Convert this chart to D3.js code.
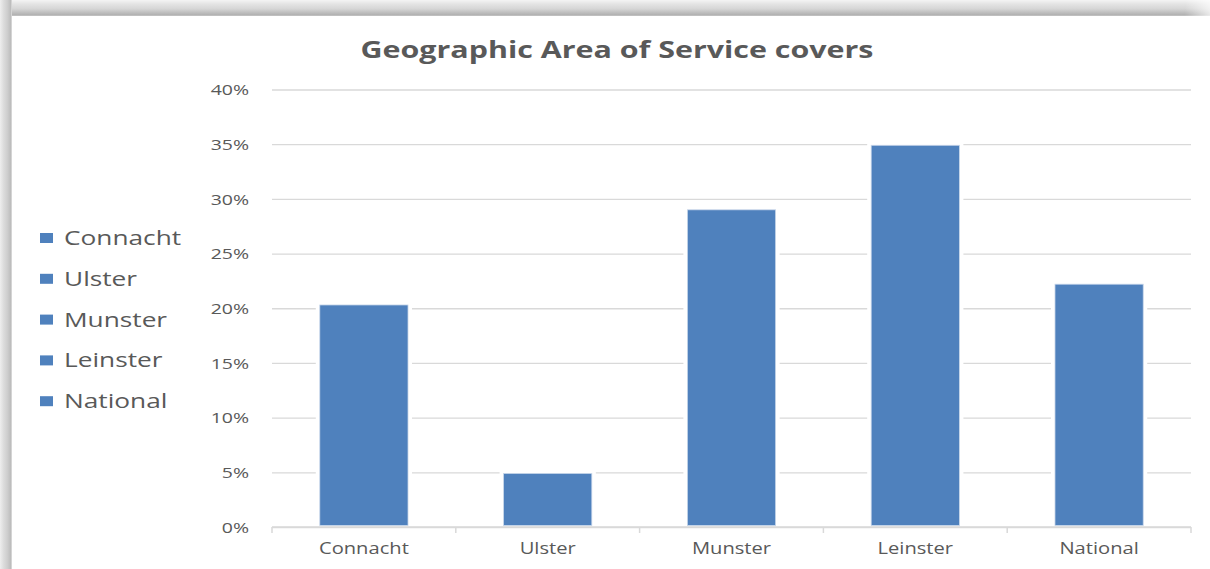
<!DOCTYPE html>
<html>
<head>
<meta charset="utf-8">
<script src="https://cdn.jsdelivr.net/npm/d3@7/dist/d3.min.js"></script>
<style>
  html, body { margin: 0; padding: 0; background: #ffffff; }
  svg { display: block; }
  text { font-family: "Open Sans", "Noto Sans", sans-serif; fill: #595959; }
</style>
</head>
<body>
<svg id="chart" width="1210" height="569"></svg>
<script>
// ---- data ----
const categories = ["Connacht", "Ulster", "Munster", "Leinster", "National"];
const values = [0.203, 0.049, 0.290, 0.349, 0.222];
const yTicks = [0, 0.05, 0.10, 0.15, 0.20, 0.25, 0.30, 0.35, 0.40];
const title = "Geographic Area of Service covers";

// ---- layout ----
const W = 1210, H = 569;
const sx = 1.3; // horizontal text stretch seen in the reference
const plot = { left: 272, right: 1191, top: 89.5, bottom: 527 };
const barColor = "#4f81bd";
const gridColor = "#d9d9d9";

const svg = d3.select("#chart");

// frame shadow
const defs = svg.append("defs");
const gTop = defs.append("linearGradient").attr("id", "gTop").attr("x1", 0).attr("y1", 0).attr("x2", 0).attr("y2", 1);
[[0, "#f4f4f4"], [0.25, "#e4e4e4"], [0.55, "#d6d6d6"], [0.8, "#bdbdbd"], [0.94, "#b0b0b0"], [1, "#cfcfcf"]]
  .forEach(([o, c]) => gTop.append("stop").attr("offset", o).attr("stop-color", c));
const gLeft = defs.append("linearGradient").attr("id", "gLeft").attr("x1", 0).attr("y1", 0).attr("x2", 1).attr("y2", 0);
[[0, "#eeeeee"], [0.3, "#dcdcdc"], [0.65, "#cccccc"], [0.88, "#bdbdbd"], [1, "#e0e0e0"]]
  .forEach(([o, c]) => gLeft.append("stop").attr("offset", o).attr("stop-color", c));
const gFade = defs.append("linearGradient").attr("id", "gFade").attr("x1", 0).attr("y1", 0).attr("x2", 1).attr("y2", 0);
[[0, "#ffffff", 0], [1, "#ffffff", 0.7]]
  .forEach(([o, c, a]) => gFade.append("stop").attr("offset", o).attr("stop-color", c).attr("stop-opacity", a));

svg.append("rect").attr("x", 0).attr("y", 0).attr("width", W).attr("height", H).attr("fill", "#ffffff");
svg.append("rect").attr("x", 0).attr("y", 0).attr("width", W).attr("height", 16).attr("fill", "url(#gTop)");
svg.append("rect").attr("x", 1185).attr("y", 0).attr("width", 25).attr("height", 16).attr("fill", "url(#gFade)");
svg.append("rect").attr("x", 0).attr("y", 0).attr("width", 12).attr("height", H).attr("fill", "url(#gLeft)");

// helper: stretched text
function sText(g, x, y, str, anchor) {
  return g.append("text")
    .attr("transform", `translate(${x},${y}) scale(${sx},1)`)
    .attr("text-anchor", anchor || "start")
    .text(str);
}

// title
sText(svg, 617, 58, title, "middle")
  .style("font-size", "23.4px").style("font-weight", "700");

// scales
const x = d3.scaleBand().domain(categories).range([plot.left, plot.right])
  .paddingInner(0.52).paddingOuter(0.26);
const y = d3.scaleLinear().domain([0, 0.40]).range([plot.bottom, plot.top]);

// gridlines + y labels
const yAxis = svg.append("g")
  .attr("transform", `translate(${plot.left},0)`)
  .call(d3.axisLeft(y).tickValues(yTicks).tickFormat(d3.format(".0%"))
    .tickSize(-(plot.right - plot.left)).tickPadding(0));
yAxis.select(".domain").remove();
yAxis.selectAll(".tick line").attr("stroke", gridColor).attr("stroke-width", 1.3);
yAxis.selectAll(".tick text")
  .attr("x", null).attr("dy", "0.35em")
  .attr("transform", `translate(-23,0) scale(${sx},1)`)
  .attr("text-anchor", "end")
  .style("font-size", "15px").style("fill", "#595959")
  .style("font-family", '"Open Sans", sans-serif');

// x axis line and boundary ticks
const xAxisG = svg.append("g");
xAxisG.append("line")
  .attr("x1", plot.left).attr("x2", plot.right)
  .attr("y1", plot.bottom).attr("y2", plot.bottom)
  .attr("stroke", gridColor).attr("stroke-width", 1.5);
const bounds = d3.range(categories.length + 1).map(i => plot.left + i * x.step());
xAxisG.selectAll("line.bt").data(bounds).join("line").attr("class", "bt")
  .attr("x1", d => d).attr("x2", d => d)
  .attr("y1", plot.bottom).attr("y2", plot.bottom + 6)
  .attr("stroke", gridColor).attr("stroke-width", 1.5);

// bars with white halo (cuts gridlines like the reference)
const barG = svg.append("g");
barG.selectAll("rect.halo").data(categories).join("rect").attr("class", "halo")
  .attr("x", d => x(d) - 4)
  .attr("y", (d, i) => y(values[i]) - 4)
  .attr("width", x.bandwidth() + 8)
  .attr("height", (d, i) => plot.bottom - 1 - y(values[i]) + 4)
  .attr("fill", "#ffffff");
barG.selectAll("rect.bar").data(categories).join("rect").attr("class", "bar")
  .attr("x", d => x(d))
  .attr("y", (d, i) => y(values[i]))
  .attr("width", x.bandwidth())
  .attr("height", (d, i) => plot.bottom - 1.5 - y(values[i]))
  .attr("fill", barColor)
  .attr("stroke", "#c9d7ea").attr("stroke-width", 0.8);

// category labels
const xl = svg.append("g");
categories.forEach(c => {
  sText(xl, x(c) + x.bandwidth() / 2, 554, c, "middle").style("font-size", "15.5px");
});

// legend
const lg = svg.append("g");
const legendY0 = 238, legendStep = 40.8;
categories.forEach((c, i) => {
  const cy = legendY0 + i * legendStep;
  lg.append("rect").attr("x", 40).attr("y", cy - 5).attr("width", 13).attr("height", 10).attr("fill", barColor);
  sText(lg, 64, cy + 7, c, "start").style("font-size", "20.2px");
});
</script>
</body>
</html>
